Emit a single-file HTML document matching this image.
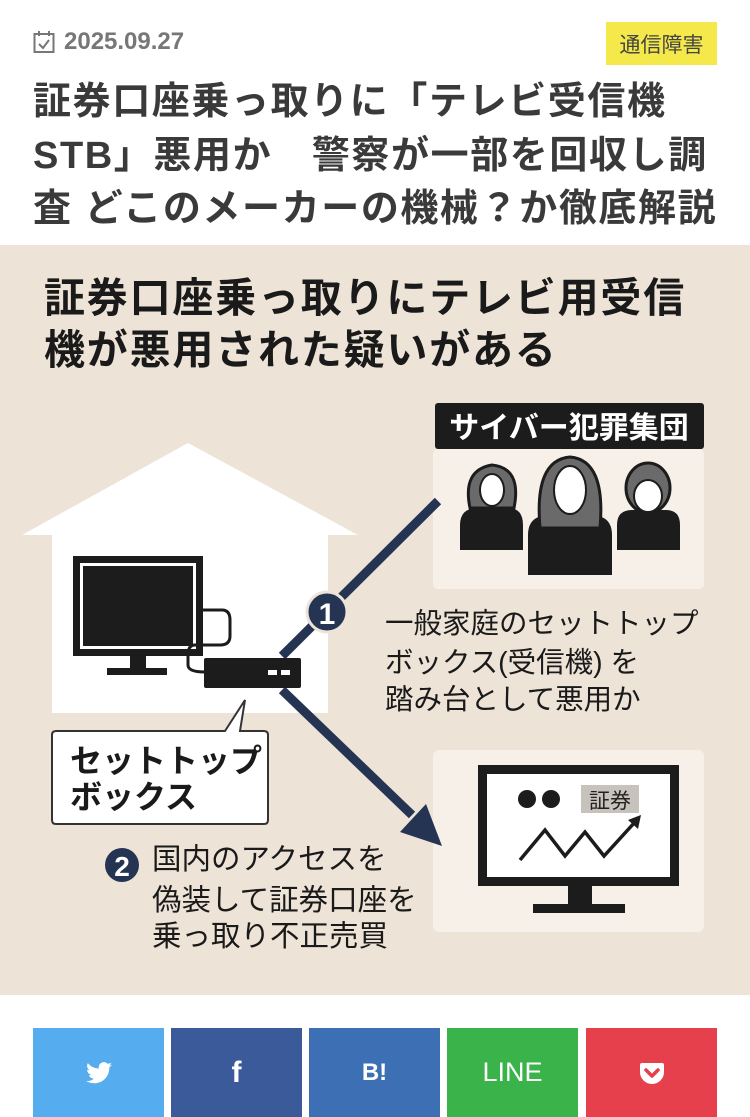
<!DOCTYPE html>
<html><head><meta charset="utf-8"><style>
*{margin:0;padding:0;box-sizing:border-box}
body{width:750px;height:1117px;background:#fff;position:relative;overflow:hidden;font-family:"Liberation Sans","Noto Sans CJK JP",sans-serif}
.a{position:absolute;white-space:nowrap}
.t{font-weight:bold;color:#3a3a3a;font-size:38px;letter-spacing:1.6px;left:33px;line-height:40px}
.h{font-weight:bold;color:#1a1a1a;font-size:41px;letter-spacing:1.8px;left:44px;line-height:46px}
.n{font-size:28.5px;color:#1a1a1a;line-height:34px}
.m{font-size:29.5px;color:#1a1a1a;line-height:34px}
.btn{position:absolute;top:1028px;height:89px;width:131px;color:#fff;font-weight:bold;font-size:26px;display:flex;align-items:center;justify-content:center}
</style></head><body>
<svg class="a" style="left:33px;top:30px" width="22" height="24" viewBox="0 0 22 24"><rect x="1.5" y="4" width="19" height="18" fill="none" stroke="#777" stroke-width="2"/><line x1="6" y1="1" x2="6" y2="6" stroke="#777" stroke-width="2"/><line x1="16" y1="1" x2="16" y2="6" stroke="#777" stroke-width="2"/><polyline points="6,14 10,18 16,10" fill="none" stroke="#777" stroke-width="2"/></svg>
<div class="a" style="left:64px;top:28px;font-size:24px;font-weight:bold;color:#777">2025.09.27</div>
<div class="a" style="left:606px;top:22px;width:111px;height:43px;background:#f5e84a;color:#444;font-size:21px;display:flex;align-items:center;justify-content:center">通信障害</div>
<div class="a t" style="top:82px">証券口座乗っ取りに「テレビ受信機</div>
<div class="a t" style="top:136px">STB」悪用か　警察が一部を回収し調</div>
<div class="a t" style="top:189px">査 どこのメーカーの機械？か徹底解説</div>

<div class="a" style="left:0;top:245px;width:750px;height:750px;background:#ede3d7"></div>
<div class="a h" style="top:275px">証券口座乗っ取りにテレビ用受信</div>
<div class="a h" style="top:327px">機が悪用された疑いがある</div>

<svg class="a" style="left:0;top:245px" width="750" height="750" viewBox="0 245 750 750">
<polygon points="188,443 358,535 22,535" fill="#fff"/>
<rect x="52" y="534" width="276" height="179" fill="#fff"/>
<rect x="73" y="556" width="130" height="100" fill="#1c1c1c"/>
<rect x="80" y="563" width="116" height="86" fill="#fff"/>
<rect x="83" y="566" width="110" height="80" fill="#1c1c1c"/>
<rect x="130" y="656" width="16" height="16" fill="#1c1c1c"/>
<rect x="107" y="668" width="60" height="7" fill="#1c1c1c"/>
<path d="M203,610 H222 Q230,610 230,620 V636 Q230,645 220,645 H195 Q188,645 188,655 V665 Q188,672 205,672" fill="none" stroke="#1c1c1c" stroke-width="3"/>
<rect x="433" y="449" width="271" height="140" rx="5" fill="#f6f0e9"/>
<rect x="433" y="750" width="271" height="182" rx="6" fill="#f6f0e9"/>
<line x1="282" y1="656" x2="438" y2="501" stroke="#243452" stroke-width="9"/>
<line x1="282" y1="690" x2="412" y2="815" stroke="#243452" stroke-width="9"/>
<polygon points="442,846 400,832 426,804" fill="#243452"/>
<rect x="204" y="658" width="97" height="30" rx="2" fill="#1c1c1c"/>
<rect x="268" y="670" width="9" height="5" fill="#fff"/><rect x="281" y="670" width="9" height="5" fill="#fff"/>
<circle cx="327" cy="612" r="20" fill="#243452" stroke="#ede3d7" stroke-width="3"/>
<text x="327" y="624" font-size="30" font-weight="bold" fill="#fff" text-anchor="middle" font-family="Liberation Sans">1</text>
<path d="M56,731 H225 L245,700 L240,731 H264 Q268,731 268,735 V820 Q268,824 264,824 H56 Q52,824 52,820 V735 Q52,731 56,731 Z" fill="#fff" stroke="#333" stroke-width="2"/>
<rect x="435" y="403" width="269" height="46" rx="3" fill="#1c1c1c"/>
<text x="569" y="438" font-size="30" font-weight="bold" fill="#fff" text-anchor="middle" font-family="Liberation Sans,Noto Sans CJK JP,sans-serif">サイバー犯罪集団</text>
<g fill="#1c1c1c">
<path d="M460,550 V525 Q460,508 478,508 H508 Q523,508 523,525 V550 Z"/>
<path d="M528,575 V535 Q528,515 550,515 H590 Q612,515 612,535 V575 Z"/>
<path d="M617,550 V525 Q617,510 632,510 H666 Q680,510 680,525 V550 Z"/>
</g>
<g fill="#6a6a6a" stroke="#1c1c1c" stroke-width="3">
<path d="M470,508 Q462,470 492,465 Q522,468 514,508 Z"/>
<path d="M540,528 Q534,460 570,457 Q606,460 600,528 Z"/>
<ellipse cx="648" cy="488" rx="22" ry="25"/>
</g>
<g fill="#fff" stroke="#1c1c1c" stroke-width="2">
<ellipse cx="492" cy="490" rx="12" ry="16"/>
<ellipse cx="570" cy="490" rx="16" ry="24"/>
<ellipse cx="648" cy="496" rx="14" ry="16"/>
</g>
<rect x="478" y="765" width="201" height="121" fill="#1c1c1c"/>
<rect x="487" y="774" width="183" height="103" fill="#fff"/>
<rect x="568" y="886" width="24" height="20" fill="#1c1c1c"/>
<rect x="533" y="904" width="92" height="9" fill="#1c1c1c"/>
<circle cx="527" cy="799" r="9" fill="#1c1c1c"/><circle cx="551" cy="799" r="9" fill="#1c1c1c"/>
<rect x="581" y="785" width="58" height="28" fill="#c8c2bc"/>
<text x="610" y="808" font-size="21" fill="#222" text-anchor="middle" font-family="Liberation Sans,Noto Sans CJK JP,sans-serif">証券</text>
<polyline points="520,860 545,830 565,856 585,832 604,856 635,822" fill="none" stroke="#1c1c1c" stroke-width="3.5"/>
<polygon points="641,815 628,820 638,829" fill="#1c1c1c"/>
<circle cx="122" cy="865" r="17" fill="#243452"/>
<text x="122" y="876" font-size="28" font-weight="bold" fill="#fff" text-anchor="middle" font-family="Liberation Sans">2</text>
</svg>
<div class="a" style="left:70px;top:743px;font-size:32px;font-weight:bold;line-height:36px;color:#1a1a1a">セットトップ<br>ボックス</div>
<div class="a n" style="left:385px;top:607px">一般家庭のセットトップ</div>
<div class="a n" style="left:385px;top:646px">ボックス(受信機) を</div>
<div class="a n" style="left:385px;top:683px">踏み台として悪用か</div>
<div class="a m" style="left:152px;top:843px">国内のアクセスを</div>
<div class="a m" style="left:152px;top:884px">偽装して証券口座を</div>
<div class="a m" style="left:152px;top:920px">乗っ取り不正売買</div>

<div class="btn" style="left:33px;background:#55acee">
<svg width="26" height="22" viewBox="0 0 24 20"><path d="M24,2.4a10,10 0 0 1-2.8.8A5,5 0 0 0 23.3.4a10,10 0 0 1-3.1,1.2A4.9,4.9 0 0 0 11.8,6 14,14 0 0 1 1.7.9 4.9,4.9 0 0 0 3.2,7.5 4.9,4.9 0 0 1 1,6.9 4.9,4.9 0 0 0 4.9,11.8a5,5 0 0 1-2.2.1 4.9,4.9 0 0 0 4.6,3.4A9.9,9.9 0 0 1 0,17.3 14,14 0 0 0 7.5,19.5c9.1,0 14-7.5 14-14v-.6A10,10 0 0 0 24,2.4Z" fill="#fff"/></svg></div>
<div class="btn" style="left:171px;background:#3b5a9a;font-size:30px">f</div>
<div class="btn" style="left:309px;background:#3d6fb5;font-size:24px">B!</div>
<div class="btn" style="left:447px;background:#3ab44a;font-weight:normal;font-size:27px">LINE</div>
<div class="btn" style="left:586px;background:#e5404b">
<svg width="26" height="24" viewBox="0 0 26 24"><path d="M3,2H23Q25,2 25,4V11A12,12 0 0 1 1,11V4Q1,2 3,2Z" fill="#fff"/><polyline points="7,9 13,15 19,9" fill="none" stroke="#e5404b" stroke-width="3.5" stroke-linecap="round" stroke-linejoin="round"/></svg></div>
</body></html>
